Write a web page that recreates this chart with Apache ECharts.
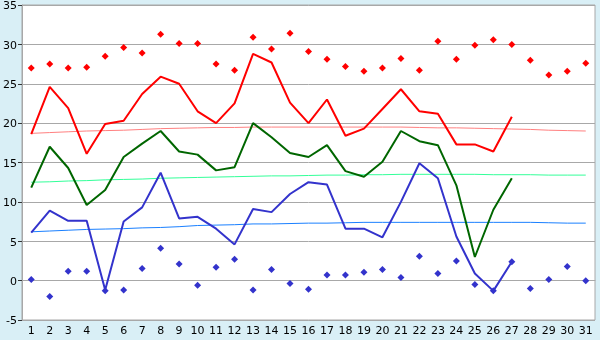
<!DOCTYPE html>
<html>
<head>
<meta charset="utf-8">
<script src="https://cdn.jsdelivr.net/npm/echarts@6/dist/echarts.min.js"></script>
<style>
html,body{margin:0;padding:0;background:#d9eff6;}
#chart{width:600px;height:340px;}
</style>
</head>
<body>
<div id="chart"></div>
<script>
var days = ['1','2','3','4','5','6','7','8','9','10','11','12','13','14','15','16','17','18','19','20','21','22','23','24','25','26','27','28','29','30','31'];
var hiLine = [18.6, 24.6, 21.9, 16.1, 19.9, 20.3, 23.7, 25.9, 25.0, 21.5, 20.0, 22.5, 28.8, 27.7, 22.6, 20.0, 23.0, 18.4, 19.3, 21.8, 24.3, 21.5, 21.2, 17.3, 17.3, 16.4, 20.8];
var midLine = [11.8, 17.0, 14.3, 9.6, 11.5, 15.7, 17.4, 19.0, 16.4, 16.0, 14.0, 14.4, 20.0, 18.2, 16.2, 15.7, 17.2, 13.9, 13.2, 15.1, 19.0, 17.7, 17.2, 12.1, 3.0, 9.0, 13.0];
var loLine = [6.1, 8.9, 7.6, 7.6, -1.2, 7.5, 9.3, 13.7, 7.9, 8.1, 6.6, 4.6, 9.1, 8.7, 11.0, 12.5, 12.2, 6.6, 6.6, 5.5, 10.0, 14.9, 13.0, 5.6, 0.9, -1.3, 2.4];
var hiDots = [27.0, 27.5, 27.0, 27.1, 28.5, 29.6, 28.9, 31.3, 30.1, 30.1, 27.5, 26.7, 30.9, 29.4, 31.4, 29.1, 28.1, 27.2, 26.6, 27.0, 28.2, 26.7, 30.4, 28.1, 29.9, 30.6, 30.0, 28.0, 26.1, 26.6, 27.6];
var loDots = [0.15, -2.0, 1.2, 1.2, -1.3, -1.2, 1.55, 4.1, 2.1, -0.6, 1.7, 2.7, -1.2, 1.4, -0.35, -1.1, 0.7, 0.7, 1.05, 1.4, 0.4, 3.1, 0.9, 2.5, -0.5, -1.3, 2.4, -1.0, 0.15, 1.8, 0.0];
var hiTrend = [18.7, 18.8, 18.9, 19.0, 19.05, 19.1, 19.2, 19.3, 19.35, 19.4, 19.45, 19.45, 19.5, 19.5, 19.5, 19.5, 19.5, 19.5, 19.5, 19.5, 19.5, 19.45, 19.4, 19.4, 19.35, 19.3, 19.25, 19.2, 19.1, 19.05, 19.0];
var midTrend = [12.5, 12.55, 12.65, 12.7, 12.8, 12.85, 12.9, 13.0, 13.05, 13.1, 13.15, 13.2, 13.25, 13.3, 13.3, 13.35, 13.4, 13.4, 13.45, 13.45, 13.5, 13.5, 13.5, 13.5, 13.5, 13.45, 13.45, 13.45, 13.4, 13.4, 13.4];
var loTrend = [6.2, 6.3, 6.4, 6.5, 6.55, 6.6, 6.7, 6.75, 6.85, 7.0, 7.05, 7.1, 7.2, 7.2, 7.25, 7.3, 7.3, 7.35, 7.4, 7.4, 7.4, 7.4, 7.4, 7.4, 7.4, 7.4, 7.4, 7.4, 7.35, 7.3, 7.3];
var yTicks = [-5, 35, 5];

function lineSeries(data, color, width){
	return {
		type: 'line',
		data: data,
		symbol: 'none',
		animation: false,
		lineStyle: {color: color, width: width},
		z: 3
	};
}
function dotSeries(data, color){
	return {
		type: 'scatter',
		data: data,
		symbol: 'diamond',
		symbolSize: 7,
		animation: false,
		itemStyle: {color: color, opacity: 1},
		z: 4
	};
}

var option = {
	backgroundColor: '#d9eff6',
	textStyle: {fontFamily: 'DejaVu Sans'},
	grid: {
		left: 20, right: 5, top: 5, bottom: 20,
		show: true,
		backgroundColor: '#ffffff',
		borderColor: '#a8a8a8',
		borderWidth: 1
	},
	xAxis: {
		type: 'category',
		data: days,
		boundaryGap: true,
		axisLine: {lineStyle: {color: '#a8a8a8'}},
		axisTick: {alignWithLabel: true, length: 4, lineStyle: {color: '#333'}},
		axisLabel: {color: '#000', fontSize: 11, margin: 6, interval: 0}
	},
	yAxis: {
		type: 'value',
		min: yTicks[0],
		max: yTicks[1],
		interval: yTicks[2],
		axisLine: {show: true, lineStyle: {color: '#a8a8a8'}},
		axisTick: {show: true, length: 4, lineStyle: {color: '#333'}},
		axisLabel: {color: '#000', fontSize: 11, margin: 5, verticalAlign: 'top', lineHeight: 11, padding: [-4, 0, 0, 0]},
		splitLine: {lineStyle: {color: '#a8a8a8'}}
	},
	series: [
		lineSeries(hiTrend, '#ff8080', 1),
		lineSeries(midTrend, '#33ff99', 1),
		lineSeries(loTrend, '#1a80ff', 1),
		lineSeries(hiLine, '#ff0000', 2),
		lineSeries(midLine, '#006600', 2),
		lineSeries(loLine, '#3333cc', 2),
		dotSeries(hiDots, '#ff0000'),
		dotSeries(loDots, '#3333cc')
	]
};

var myChart = echarts.init(document.getElementById('chart'));
myChart.setOption(option);
</script>
</body>
</html>
